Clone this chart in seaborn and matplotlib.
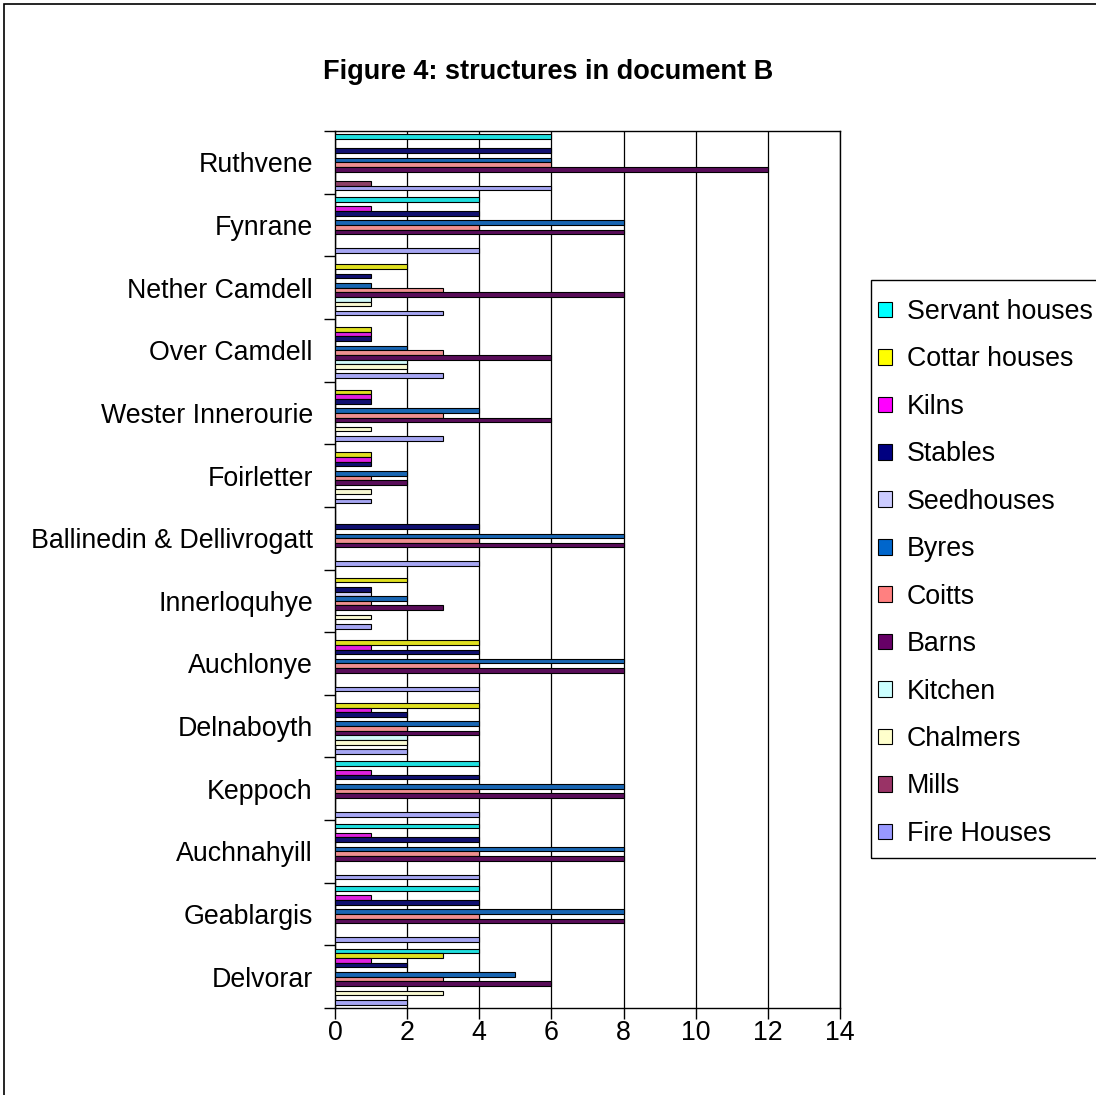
import pandas as pd
import matplotlib
matplotlib.use("Agg")
import matplotlib.pyplot as plt
from matplotlib.patches import Rectangle
import seaborn as sns

PLACES = ["Ruthvene", "Fynrane", "Nether Camdell", "Over Camdell", "Wester Innerourie",
          "Foirletter", "Ballinedin & Dellivrogatt", "Innerloquhye", "Auchlonye",
          "Delnaboyth", "Keppoch", "Auchnahyill", "Geablargis", "Delvorar"]

STRUCTURES = ["Servant houses", "Cottar houses", "Kilns", "Stables", "Seedhouses", "Byres",
              "Coitts", "Barns", "Kitchen", "Chalmers", "Mills", "Fire Houses"]

servant = [6, 4, 0, 0, 0, 0, 0, 0, 0, 0, 4, 4, 4, 4]
cottar = [0, 0, 2, 1, 1, 1, 0, 2, 4, 4, 0, 0, 0, 3]
kilns = [0, 1, 0, 1, 1, 1, 0, 0, 1, 1, 1, 1, 1, 1]
stables = [6, 4, 1, 1, 1, 1, 4, 1, 4, 2, 4, 4, 4, 2]
seedhouses = [0, 0, 0, 0, 0, 0, 0, 1, 0, 0, 0, 0, 0, 0]
byres = [6, 8, 1, 2, 4, 2, 8, 2, 8, 4, 8, 8, 8, 5]
coitts = [6, 4, 3, 3, 3, 1, 4, 1, 4, 2, 4, 4, 4, 3]
barns = [12, 8, 8, 6, 6, 2, 8, 3, 8, 4, 8, 8, 8, 6]
kitchen = [0, 0, 1, 2, 0, 0, 0, 0, 0, 2, 0, 0, 0, 0]
chalmers = [0, 0, 1, 2, 1, 1, 0, 1, 0, 2, 0, 0, 0, 3]
mills = [1, 0, 0, 0, 0, 0, 0, 0, 0, 0, 0, 0, 0, 0]
fire_houses = [6, 4, 3, 3, 3, 1, 4, 1, 4, 2, 4, 4, 4, 2]

COLOURS = ["#00FFFF", "#FFFF00", "#FF00FF", "#000080", "#CCCCFF", "#0066CC",
           "#FF8080", "#660066", "#CCFFFF", "#FFFFCC", "#993366", "#9999FF"]

series = [servant, cottar, kilns, stables, seedhouses, byres,
          coitts, barns, kitchen, chalmers, mills, fire_houses]

rows = []
for name, vals in zip(STRUCTURES, series):
    for place, v in zip(PLACES, vals):
        rows.append({"place": place, "structure": name, "count": v})
df = pd.DataFrame(rows)

sns.set_style("white")
plt.rcParams["font.family"] = ["Liberation Sans", "DejaVu Sans"]
plt.rcParams["text.color"] = "black"
plt.rcParams["xtick.color"] = "black"
plt.rcParams["ytick.color"] = "black"
FS = 19.3

fig = plt.figure(figsize=(10.96, 10.95), dpi=100)
ax = fig.add_axes([335 / 1096, 1 - 1008 / 1095, 505 / 1096, 877 / 1095])

sns.barplot(data=df, x="count", y="place", hue="structure", orient="h",
            order=PLACES, hue_order=STRUCTURES, palette=COLOURS,
            width=0.89, edgecolor="black", linewidth=0.8, errorbar=None,
            ax=ax, zorder=3)

ax.set_xlim(0, 14)
ax.set_xticks(range(0, 15, 2))
ax.xaxis.grid(True, color="black", linewidth=0.9, zorder=0)
ax.set_axisbelow(True)
ax.set_xlabel("")
ax.set_ylabel("")

# category ticks sit between the groups, labels in the middle
ax.set_yticks([i - 0.5 for i in range(len(PLACES) + 1)], minor=True)
ax.tick_params(axis="y", which="major", length=0, pad=16, labelsize=FS)
ax.tick_params(axis="y", which="minor", length=8, width=1, direction="out", left=True)
ax.tick_params(axis="x", which="major", length=8, width=1, direction="out",
               bottom=True, pad=1, labelsize=FS)

for s in ax.spines.values():
    s.set_visible(True)
    s.set_color("black")
    s.set_linewidth(1)

ax.get_legend().remove()
handles = [Rectangle((0, 0), 1, 1, facecolor=c, edgecolor="black", linewidth=0.8) for c in COLOURS]
leg = fig.legend(handles, STRUCTURES, loc="upper left",
                 bbox_to_anchor=(871 / 1096, 1 - 292 / 1095), bbox_transform=fig.transFigure,
                 fontsize=FS, frameon=False, borderpad=0.26, labelspacing=0.80,
                 handlelength=0.52, handleheight=0.52, handletextpad=0.56,
                 borderaxespad=0)
fig.patches.append(Rectangle((871 / 1096, 1 - 858 / 1095), 0.3, 578 / 1095,
                             transform=fig.transFigure, fill=False,
                             edgecolor="black", linewidth=1))

fig.text(0.5, 1 - 72 / 1095, "Figure 4: structures in document B",
         ha="center", va="center", fontsize=19.5, fontweight="bold")

fig.patches.append(Rectangle((4 / 1096, -0.05), 1.2, 1.05 - 4 / 1095, transform=fig.transFigure,
                             fill=False, edgecolor="black", linewidth=1.2))

fig.savefig("out.png", dpi=100)
